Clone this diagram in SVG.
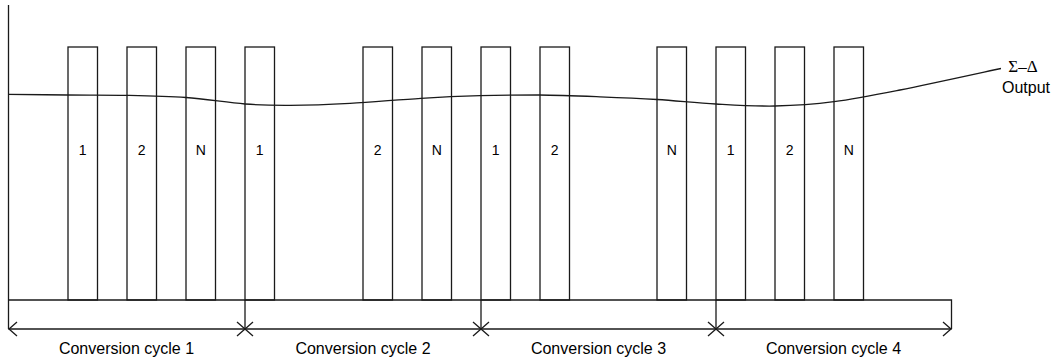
<svg xmlns="http://www.w3.org/2000/svg" xmlns:xlink="http://www.w3.org/1999/xlink" width="1055" height="360" viewBox="0 0 1055 360">
<style>
.ln{fill:none;stroke:#1a1a1a;stroke-width:1.3}
.pulse{fill:none;stroke:#1a1a1a;stroke-width:1.3}
.lbl{font-family:"Liberation Sans",Arial,sans-serif;font-size:14px;fill:#000;text-anchor:middle}
.cyc{font-family:"Liberation Sans",Arial,sans-serif;font-size:16px;fill:#000;text-anchor:middle}
.sym{font-family:"Liberation Serif","Times New Roman",serif;font-size:17px;fill:#000;text-anchor:middle}
.out{font-family:"Liberation Sans",Arial,sans-serif;font-size:16px;fill:#000;text-anchor:middle}
</style>
<defs>
<path id="xm" class="ln" d="M-8,-7 L8,7 M-8,7 L8,-7"/>
</defs>
<rect width="1055" height="360" fill="#fff"/>
<g id="pulse1"><rect class="pulse" x="68" y="47" width="29.5" height="253"/><text class="lbl" x="82.75" y="155">1</text></g>
<g id="pulse2"><rect class="pulse" x="127" y="47" width="29.5" height="253"/><text class="lbl" x="141.75" y="155">2</text></g>
<g id="pulse3"><rect class="pulse" x="186" y="47" width="29.5" height="253"/><text class="lbl" x="200.75" y="155">N</text></g>
<g id="pulse4"><rect class="pulse" x="245" y="47" width="29.5" height="253"/><text class="lbl" x="259.75" y="155">1</text></g>
<g id="pulse5"><rect class="pulse" x="363" y="47" width="29.5" height="253"/><text class="lbl" x="377.75" y="155">2</text></g>
<g id="pulse6"><rect class="pulse" x="422" y="47" width="29.5" height="253"/><text class="lbl" x="436.75" y="155">N</text></g>
<g id="pulse7"><rect class="pulse" x="481" y="47" width="29.5" height="253"/><text class="lbl" x="495.75" y="155">1</text></g>
<g id="pulse8"><rect class="pulse" x="540" y="47" width="29.5" height="253"/><text class="lbl" x="554.75" y="155">2</text></g>
<g id="pulse9"><rect class="pulse" x="657" y="47" width="29.5" height="253"/><text class="lbl" x="671.75" y="155">N</text></g>
<g id="pulse10"><rect class="pulse" x="716" y="47" width="29.5" height="253"/><text class="lbl" x="730.75" y="155">1</text></g>
<g id="pulse11"><rect class="pulse" x="775" y="47" width="29.5" height="253"/><text class="lbl" x="789.75" y="155">2</text></g>
<g id="pulse12"><rect class="pulse" x="834" y="47" width="29.5" height="253"/><text class="lbl" x="848.75" y="155">N</text></g>
<g id="connectors">
<path class="ln" d="M8.5,5 L8.5,329"/>
<path class="ln" d="M8.5,300 L951.5,300 L951.5,329"/>
<path class="ln" d="M8.5,329 L951.5,329"/>
<path class="ln" d="M245,300 L245,329 M481,300 L481,329 M716,300 L716,329"/>
<path class="ln" d="M17,322 L9,329 L17,336"/>
<path class="ln" d="M943,322 L951,329 L943,336"/>
<use xlink:href="#xm" x="245" y="329"/>
<use xlink:href="#xm" x="481" y="329"/>
<use xlink:href="#xm" x="716" y="329"/>
<path class="ln" d="M8,94.3 C17.8,94.4 47.2,94.8 67,95 C86.8,95.2 107.2,94.9 127,95.3 C146.8,95.7 166.3,96.05 186,97.5 C205.7,98.95 227.7,102.7 245,104 C262.3,105.3 272.5,105.4 290,105.3 C307.5,105.2 328.2,104.5 350,103.3 C371.8,102.1 399.3,99.6 421,98.3 C442.7,97 460.3,96.25 480,95.7 C499.7,95.15 524.3,95 539,95 C559,95.2 580.3,96.05 600,96.8 C619.7,97.55 637.7,98.3 657,99.5 C676.3,100.7 696.3,102.9 716,104 C735.7,105.1 755.3,106.4 775,106 C794.7,105.6 813.2,104.4 834,101.7 C854.8,99 872.2,95.5 900,90 C927.8,84.5 984.2,72.1 1001,68.5"/>
</g>
<g id="output-label">
<text class="sym" x="1023" y="72">Σ–Δ</text>
<text class="out" x="1026" y="93">Output</text>
</g>
<g id="cycle-labels">
<text class="cyc" x="126.5" y="354">Conversion cycle 1</text>
<text class="cyc" x="363" y="354">Conversion cycle 2</text>
<text class="cyc" x="598.5" y="354">Conversion cycle 3</text>
<text class="cyc" x="833.5" y="354">Conversion cycle 4</text>
</g>
</svg>
